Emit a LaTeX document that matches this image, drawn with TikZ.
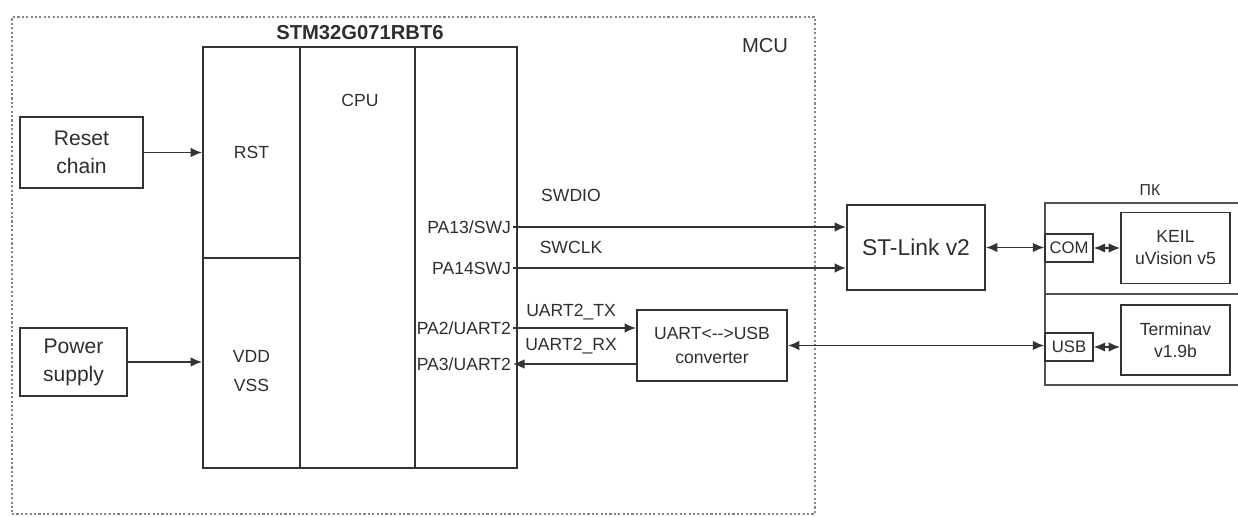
\documentclass[tikz,border=0pt]{standalone}
\usepackage{fontspec}
\setmainfont{Liberation Sans}
\usetikzlibrary{
  arrows.meta,
  positioning,
  calc
}
\definecolor{bdLine}{HTML}{333333}
\definecolor{bdText}{HTML}{2E2E2E}
\definecolor{bdZone}{HTML}{858585}
\tikzset{
  bdnode/.style={
    draw=bdLine, line width=1pt, inner sep=0pt, align=center,
    text=bdText, font=\fontsize{10}{13.5}\selectfont
  },
  srcbox/.style={bdnode, font=\fontsize{12}{16}\selectfont},
  chipcol/.style={bdnode, minimum width=1.94cm},
  extbox/.style={bdnode, minimum height=1.42cm},
  pcpart/.style={draw=bdLine!85, line width=0.9pt, inner sep=0pt, minimum width=4.1cm, minimum height=1.82cm},
  portbox/.style={bdnode, fill=white, line width=0.8pt, minimum width=0.96cm, minimum height=0.56cm,
    font=\fontsize{9.5}{11}\selectfont},
  mcuzone/.style={draw=bdZone, line width=1.2pt, dash pattern=on 1.2pt off 1.3pt, inner sep=0pt},
  pinlabel/.style={text=bdText, font=\fontsize{10}{12}\selectfont, inner sep=1pt, anchor=east},
  tag/.style={text=bdText, font=\fontsize{10}{16}\selectfont, inner sep=1pt, align=center},
  title/.style={text=bdText, font=\fontsize{11.5}{13}\selectfont\bfseries, inner sep=1pt},
  flow/.style={-{Latex[length=2.3mm,width=1.9mm]}, line width=0.9pt, bdLine},
  duplex/.style={{Latex[length=2.3mm,width=1.9mm]}-{Latex[length=2.3mm,width=1.9mm]}, line width=0.9pt, bdLine}
}

\begin{document}
\begin{tikzpicture}[x=0.02cm, y=-0.02cm]
  \useasboundingbox (0,0) rectangle (1238,517);
  % MCU zone
  \node[mcuzone, minimum width=16.06cm, minimum height=9.94cm] (mcu) at (413.5,265.5) {};
  \node[tag, font=\fontsize{11.5}{13}\selectfont] (mculabel) at (765,46) {MCU};
  % chip
  \node[title] (chipname) at (360,33) {STM32G071RBT6};
  \node[chipcol, minimum height=4.22cm] (rst) at (251.5,152.5) {RST};
  \node[chipcol, minimum height=4.2cm] (pwr) at (251.5,363) {};
  \node[tag] (vddvss) at (251.5,371) {VDD\\VSS};
  \node[bdnode, minimum width=2.3cm, minimum height=8.42cm] (cpu) at (357.5,257.5) {};
  \node[tag] (cpulabel) at (360,100) {CPU};
  \node[bdnode, minimum width=2.04cm, minimum height=8.42cm] (pins) at (466,257.5) {};
  \node[pinlabel] (pa13) at (513,227) {PA13/SWJ};
  \node[pinlabel] (pa14) at (513,268) {PA14SWJ};
  \node[pinlabel] (pa2) at (513,328) {PA2/UART2};
  \node[pinlabel] (pa3) at (513,364) {PA3/UART2};
  % sources
  \node[srcbox, minimum width=2.46cm, minimum height=1.42cm] (reset) at (81.5,152.5) {Reset\\chain};
  \node[srcbox, minimum width=2.14cm, minimum height=1.36cm] (power) at (73.5,362) {Power\\supply};
  % programmer and converter
  \node[bdnode, minimum width=2.76cm, minimum height=1.7cm, font=\fontsize{13}{15}\selectfont] (stlink) at (916,247.5) {ST-Link v2};
  \node[extbox, minimum width=3cm] (conv) at (712,345.5) {UART<-{}->USB\\converter};
  % PC
  \node[pcpart] (pctop) at (1147.5,248.5) {};
  \node[pcpart] (pcbot) at (1147.5,339.5) {};
  \node[tag, font=\fontsize{9}{11}\selectfont] (pclabel) at (1150,190) {ПК};
  \node[portbox] (com) at (1069,248) {COM};
  \node[portbox] (usb) at (1069,347) {USB};
  \node[extbox, minimum width=2.18cm, font=\fontsize{10}{12.5}\selectfont] (keil) at (1175.5,248) {KEIL\\uVision v5};
  \node[extbox, minimum width=2.18cm, minimum height=1.4cm, font=\fontsize{10}{12.5}\selectfont] (term) at (1175.5,340) {Terminav\\v1.9b};
  % signal names
  \node[tag] (swdio) at (571,195) {SWDIO};
  \node[tag] (swclk) at (571,247) {SWCLK};
  \node[tag] (uarttx) at (571,312) {UART2\_TX};
  \node[tag] (uartrx) at (571,346) {UART2\_RX};
  % connectors
  \draw[flow] (reset.east) -- (reset.east -| rst.west);
  \draw[flow] (power.east) -- (power.east -| pwr.west);
  \draw[flow] (pa13.east) -- (pa13.east -| stlink.west);
  \draw[flow] (pa14.east) -- (pa14.east -| stlink.west);
  \draw[flow] (pa2.east) -- (pa2.east -| conv.west);
  \draw[flow] (pa3.east -| conv.west) -- (pa3.east);
  \draw[duplex] (stlink.east) -- (stlink.east -| com.west);
  \draw[duplex] (com.east) -- (com.east -| keil.west);
  \draw[duplex] (conv.east) -- (conv.east -| usb.west);
  \draw[duplex] (usb.east) -- (usb.east -| term.west);
\end{tikzpicture}
\end{document}
